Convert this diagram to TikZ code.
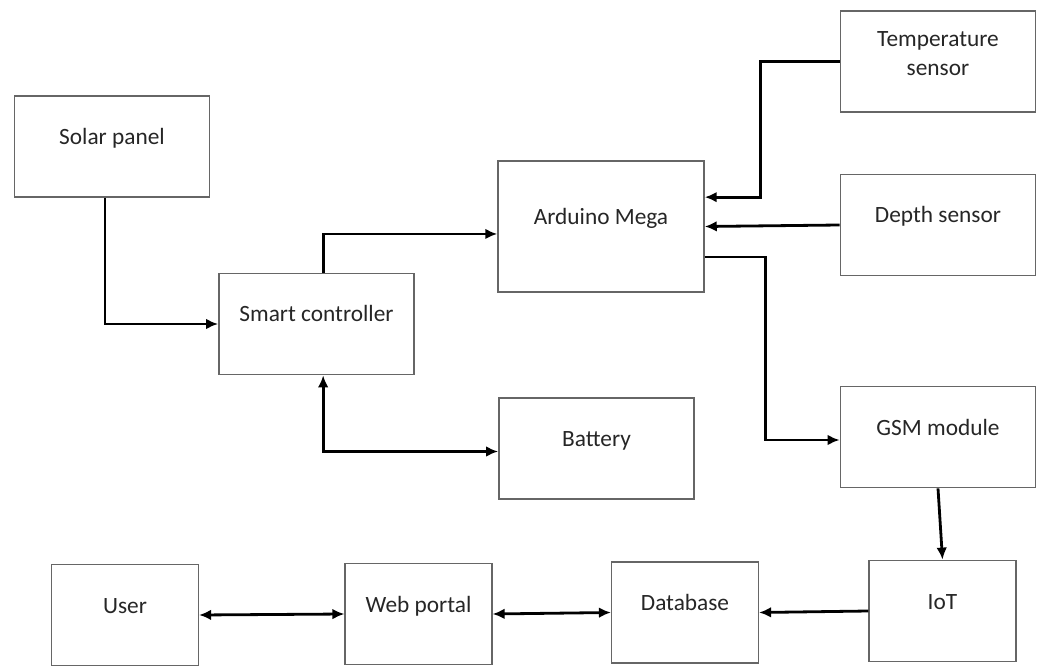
\documentclass[tikz,border=0pt]{standalone}
\usepackage{fontspec}
\setmainfont{Carlito}
\usetikzlibrary{arrows.meta}

\begin{document}
\begin{tikzpicture}[x=0.75pt,y=0.75pt,yscale=-1,xscale=1,
  block/.style={draw=black!60, line width=1.1pt, fill=white, text=black!85,
    minimum width=146.5pt, minimum height=76pt, inner sep=0pt,
    text height=12pt, text depth=15pt, align=center,
    font=\fontsize{17.5}{22}\selectfont},
  smallblock/.style={block, minimum width=110pt},
  bigblock/.style={block, minimum width=154.5pt, minimum height=98.25pt},
  link/.style={line width=2.1pt, -{Latex[length=9pt,width=8pt]}},
  twoway/.style={line width=2.1pt, {Latex[length=9pt,width=8pt]}-{Latex[length=9pt,width=8pt]}}]
\useasboundingbox (0,0) rectangle (1038,666);

% Blocks
\node[block] (solar) at (112,146.5) {Solar panel};
\node[block] (ctrl) at (316.5,324) {Smart controller};
\node[bigblock] (mega) at (601,226.5) {Arduino Mega};
\node[block] (batt) at (596.5,448.5) {Battery};
\node[block, text height=36pt] (temp) at (938,61.5) {Temperature\\sensor};
\node[block] (depth) at (938,225) {Depth sensor};
\node[block] (gsm) at (938,437) {GSM module};
\node[smallblock] (iot) at (942.5,611) {IoT};
\node[smallblock] (db) at (685,612.5) {Database};
\node[smallblock] (web) at (418.5,614) {Web portal};
\node[smallblock] (user) at (125,615) {User};

%Straight Lines
\draw[link] ([xshift=-5.25pt]solar.south) |- (ctrl.west);
\draw[link] ([xshift=5pt]ctrl.north) |- ([yshift=5.6pt]mega.west);
\draw[twoway] ([xshift=5pt]ctrl.south) |- ([yshift=2.25pt]batt.west);
\draw[link] (temp.west) -- ++(-79,0) |- ([yshift=-22pt]mega.east);
\draw[link] (depth.west) -- (mega.east);
\draw[link] ([yshift=22.9pt]mega.east) -- ++(61,0) |- ([yshift=2.25pt]gsm.west);
\draw[link] (gsm.south) -- (iot.north);
\draw[link] (iot.west) -- (db.east);
\draw[twoway] (web.east) -- (db.west);
\draw[twoway] (user.east) -- (web.west);

\end{tikzpicture}
\end{document}
